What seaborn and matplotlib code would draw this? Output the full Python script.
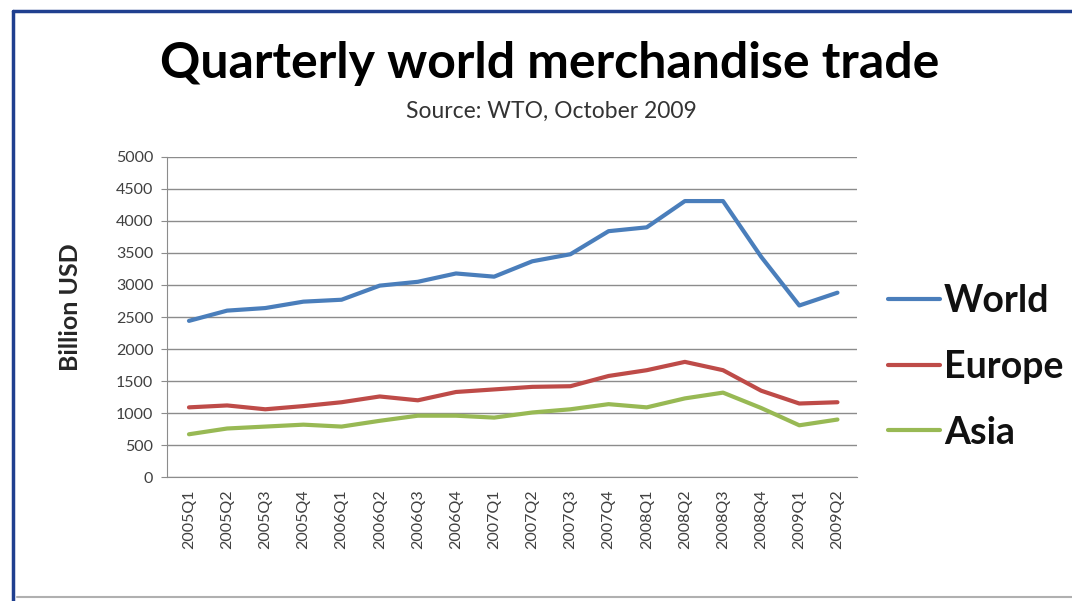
import pandas as pd
import matplotlib.pyplot as plt
import seaborn as sns
from matplotlib.lines import Line2D

quarters = ["2005Q1", "2005Q2", "2005Q3", "2005Q4", "2006Q1", "2006Q2", "2006Q3",
            "2006Q4", "2007Q1", "2007Q2", "2007Q3", "2007Q4", "2008Q1", "2008Q2",
            "2008Q3", "2008Q4", "2009Q1", "2009Q2"]
world = [2440, 2600, 2640, 2740, 2770, 2990, 3050, 3180, 3130, 3370, 3480, 3840,
         3900, 4310, 4310, 3440, 2680, 2880]
europe = [1090, 1120, 1060, 1110, 1170, 1260, 1200, 1330, 1370, 1410, 1420, 1580,
          1670, 1800, 1670, 1350, 1150, 1170]
asia = [670, 760, 790, 820, 790, 880, 960, 960, 930, 1010, 1060, 1140,
        1090, 1230, 1320, 1080, 810, 900]
regions = ["World", "Europe", "Asia"]
colors = ["#4A7EBB", "#BE4B48", "#98B954"]

df = pd.DataFrame({"Quarter": quarters * 3,
                   "Value": world + europe + asia,
                   "Region": [r for r in regions for _ in quarters]})

sns.set_style("white")
plt.rcParams["font.family"] = ["Lato", "DejaVu Sans"]

fig = plt.figure(figsize=(10.72, 6.01), dpi=100)
ax = fig.add_axes([0.156, 0.206, 0.643, 0.533])

sns.lineplot(data=df, x="Quarter", y="Value", hue="Region", palette=colors,
             linewidth=3, sort=False, ax=ax)

ax.set_ylim(0, 5000)
ax.set_xlim(-0.57, 17.5)
ax.set_yticks(range(0, 5001, 500))
ax.yaxis.grid(True, color="#8c8c8c", linewidth=1)
ax.xaxis.grid(False)
ax.tick_params(axis="y", length=4, color="#8c8c8c", left=True, labelsize=11.5,
               labelcolor="#404040", pad=6)
ax.tick_params(axis="x", length=0, labelsize=11.5, labelcolor="#404040",
               rotation=90, pad=9)
for s in ["top", "right"]:
    ax.spines[s].set_visible(False)
for s in ["left", "bottom"]:
    ax.spines[s].set_color("#8c8c8c")
ax.set_xlabel("")
ax.set_ylabel("Billion USD", fontsize=18, fontweight="bold")
ax.yaxis.set_label_coords(-0.123, 0.53)

leg = ax.legend(loc="center left", bbox_to_anchor=(1.045, 0.345), frameon=False,
                handlelength=1.4, handletextpad=0.1, labelspacing=0.85,
                borderaxespad=0, borderpad=0,
                prop={"weight": "bold", "size": 27})
for h in leg.get_lines():
    h.set_linewidth(3)
for t in leg.get_texts():
    t.set_color("#111111")

fig.text(0.513, 0.895, "Quarterly world merchandise trade", ha="center",
         va="center", fontsize=36, fontweight="bold", color="black")
fig.text(0.514, 0.814, "Source: WTO, October 2009", ha="center", va="center",
         fontsize=16.5, color="#333333")

# frame around the picture
fig.add_artist(Line2D([0.012, 1.0], [0.982, 0.982], color="#1F3F8F", linewidth=2.5))
fig.add_artist(Line2D([0.0125, 0.0125], [0.0, 0.982], color="#1F3F8F", linewidth=2.5))
fig.add_artist(Line2D([0.016, 1.0], [0.006, 0.006], color="#b0b0b0", linewidth=1.5))

fig.savefig("out.png", dpi=100)
